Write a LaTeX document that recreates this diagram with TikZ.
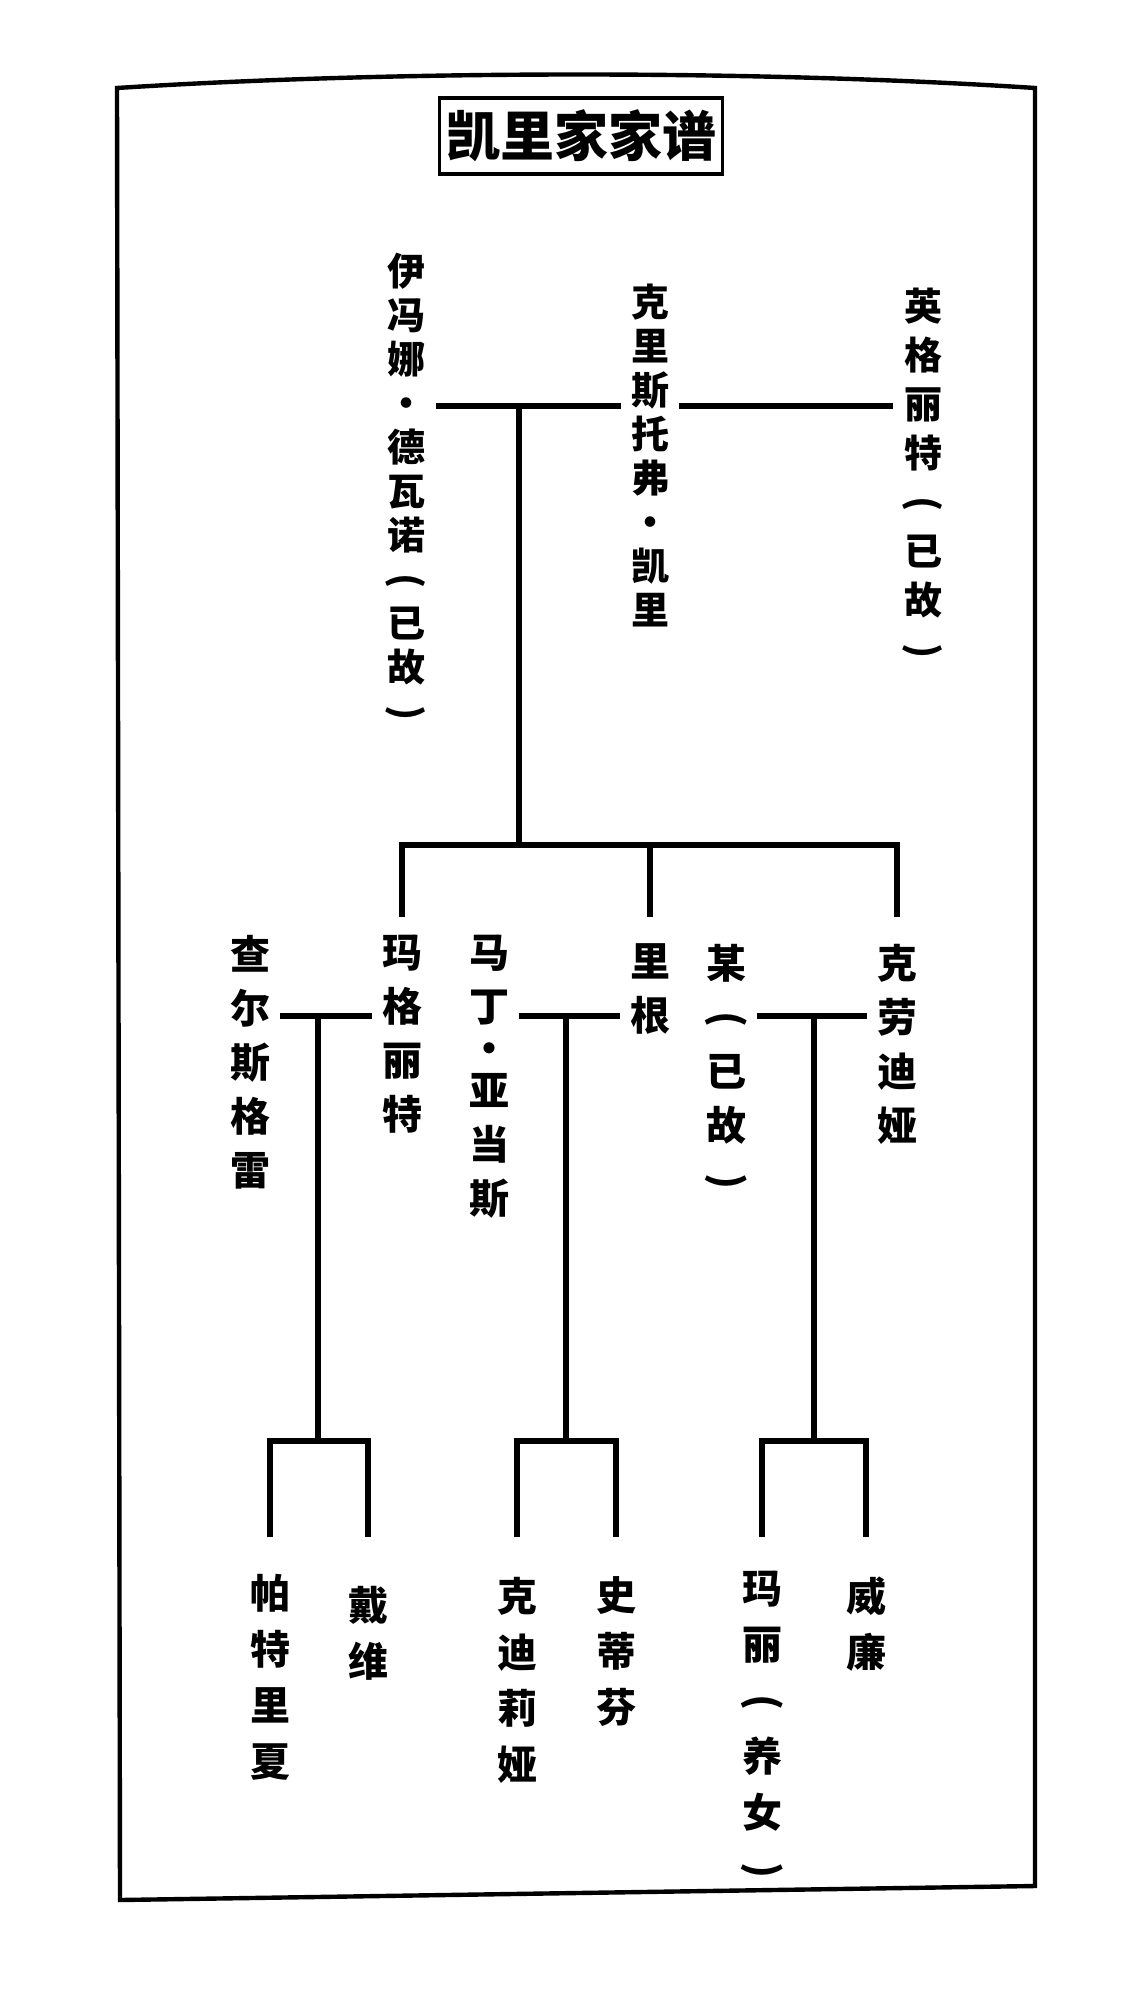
\documentclass[tikz,border=0pt]{standalone}
\usepackage{fontspec}
\usepackage{graphicx}
\newfontfamily\cjk{Noto Sans CJK SC}
\newcommand{\vlp}{\rotatebox[origin=c]{-90}{(}}
\newcommand{\vrp}{\rotatebox[origin=c]{-90}{)}}

\begin{document}
\begin{tikzpicture}[x=0.5pt, y=-0.5pt, line width=2.8pt,
        vname/.style={anchor=north, inner sep=0pt, outer xsep=5pt, align=center, font=\cjk\bfseries\fontsize{20}{27}\selectfont},
        elder/.style={vname, font=\cjk\bfseries\fontsize{19}{22}\selectfont},
        young/.style={vname, font=\cjk\bfseries\fontsize{20}{28}\selectfont}]
            \useasboundingbox (0, 0) rectangle (1125, 1990);
            \draw[line width=2.2pt] (117, 88) .. controls (400, 70) and (760, 70) .. (1035, 88) -- (1035, 1886) -- (120, 1900) -- cycle;
            \node[draw, line width=1.8pt, minimum width=139pt, minimum height=38pt, font=\cjk\bfseries\fontsize{27}{27}\selectfont] (title) at (581, 136) {凯里家家谱};

            \node[elder] (yvonne) at (406, 250) {伊\\冯\\娜\\·\\德\\瓦\\诺\\\vlp\\已\\故\\\vrp};
            \node[elder] (chris) at (650, 281) {克\\里\\斯\\托\\弗\\·\\凯\\里};
            \node[elder, font=\cjk\bfseries\fontsize{19}{24.5}\selectfont] (ingrid) at (923, 285) {英\\格\\丽\\特\\\vlp\\已\\故\\\vrp};

            \node[vname] (charles) at (250, 932) {查\\尔\\斯\\格\\雷};
            \node[vname] (margaret) at (402, 932) {玛\\格\\丽\\特};
            \node[vname] (martin) at (489, 932) {马\\丁\\[-6pt]·\\[-6pt]亚\\当\\斯};
            \node[vname] (regan) at (650, 941) {里\\根};
            \node[vname] (mou) at (726, 941) {某\\\vlp\\已\\故\\\vrp};
            \node[vname] (claudia) at (897, 941) {克\\劳\\迪\\娅};

            \node[young] (patricia) at (270, 1571) {帕\\特\\里\\夏};
            \node[young] (david) at (368, 1583) {戴\\维};
            \node[young] (cordelia) at (517, 1574) {克\\迪\\莉\\娅};
            \node[young] (stephen) at (616, 1574) {史\\蒂\\芬};
            \node[young] (mary) at (762, 1568) {玛\\丽\\\vlp\\养\\女\\\vrp};
            \node[young] (william) at (866, 1574) {威\\廉};

            \coordinate (wed) at (519, 406);
            \coordinate (kids) at (519, 845);
            \coordinate (drop) at (0, 917);
            \draw (yvonne.east |- wed) -- (chris.west |- wed);
            \draw (chris.east |- wed) -- (ingrid.west |- wed);
            \draw (wed) -- (kids);
            \draw (margaret.north |- drop) -- (margaret.north |- kids) -- (claudia.north |- kids) -- (claudia.north |- drop);
            \draw (regan.north |- kids) -- (regan.north |- drop);

            \coordinate (cg1) at (318, 1016);
            \coordinate (cg2) at (566, 1016);
            \coordinate (cg3) at (814, 1016);
            \coordinate (sib1) at (318, 1441);
            \coordinate (sib2) at (566, 1441);
            \coordinate (sib3) at (814, 1441);
            \coordinate (low) at (0, 1537);
            \draw (charles.east |- cg1) -- (margaret.west |- cg1);
            \draw (martin.east |- cg2) -- (regan.west |- cg2);
            \draw (mou.east |- cg3) -- (claudia.west |- cg3);
            \draw (cg1) -- (sib1);
            \draw (cg2) -- (sib2);
            \draw (cg3) -- (sib3);
            \draw (patricia.north |- low) -- (patricia.north |- sib1) -- (david.north |- sib1) -- (david.north |- low);
            \draw (cordelia.north |- low) -- (cordelia.north |- sib2) -- (stephen.north |- sib2) -- (stephen.north |- low);
            \draw (mary.north |- low) -- (mary.north |- sib3) -- (william.north |- sib3) -- (william.north |- low);
        \end{tikzpicture}
\end{document}
